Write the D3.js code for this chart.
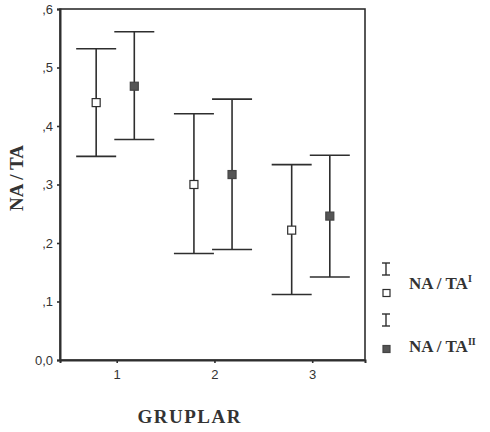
<!DOCTYPE html>
<html><head><meta charset="utf-8">
<script src="https://cdn.jsdelivr.net/npm/d3@7"></script>
<style>body{margin:0;background:#fff}</style>
</head><body>
<svg id="c" width="490" height="432"></svg>
<script>
const groups = [1, 2, 3];
const seriesNames = ["NA / TA", "NA / TA"];
const seriesSup = ["I", "II"];
const meanI = [0.440, 0.300, 0.222];
const lowI  = [0.348, 0.182, 0.112];
const highI = [0.532, 0.421, 0.334];
const meanII = [0.468, 0.317, 0.246];
const lowII  = [0.377, 0.189, 0.142];
const highII = [0.561, 0.446, 0.350];
const yTicks = [0, 0.1, 0.2, 0.3, 0.4, 0.5, 0.6];
const yTickLabels = ["0,0", ",1", ",2", ",3", ",4", ",5", ",6"];
const xTitle = "GRUPLAR", yTitle = "NA / TA";

const svg = d3.select("#c");
const col = "#2e2e2e";
const x = d3.scaleLinear().domain([0.42, 3.54]).range([60, 365]);
const y = d3.scaleLinear().domain([0, 0.6]).range([360, 9]);
const offsets = [-0.21, 0.18];
const capHalf = 20;

// frame
svg.append("rect").attr("x", 60).attr("y", 9).attr("width", 305).attr("height", 351)
  .attr("fill", "none").attr("stroke", col).attr("stroke-width", 1.6);

// axes
const ya = svg.append("g").attr("transform", "translate(60,0)")
  .call(d3.axisLeft(y).tickValues(yTicks).tickSize(3).tickFormat((d, i) => yTickLabels[i]));
const xa = svg.append("g").attr("transform", "translate(0,360)")
  .call(d3.axisBottom(x).tickValues(groups).tickSize(3).tickFormat(d3.format("d")));
[ya, xa].forEach(g => {
  g.select(".domain").attr("stroke", col).attr("stroke-width", 2);
  g.selectAll(".tick line").attr("stroke", col).attr("stroke-width", 1.6);
  g.selectAll("text").attr("font-family", "Arial, 'Liberation Sans', sans-serif")
    .attr("font-size", 13).attr("fill", "#333");
});
ya.selectAll("text").attr("dx", "-1");
xa.selectAll("text").attr("dy", "1em");

const series = [
  {mean: meanI, low: lowI, high: highI, filled: false},
  {mean: meanII, low: lowII, high: highII, filled: true}
];
series.forEach((s, si) => {
  const g = svg.append("g");
  groups.forEach((gv, i) => {
    const cx = x(gv + offsets[si]);
    g.append("line").attr("x1", cx).attr("x2", cx).attr("y1", y(s.high[i])).attr("y2", y(s.low[i]))
      .attr("stroke", col).attr("stroke-width", 1.6);
    [s.high[i], s.low[i]].forEach(v => {
      g.append("line").attr("x1", cx - capHalf).attr("x2", cx + capHalf)
        .attr("y1", y(v)).attr("y2", y(v)).attr("stroke", col).attr("stroke-width", 1.6);
    });
    g.append("rect").attr("x", cx - 4).attr("y", y(s.mean[i]) - 4).attr("width", 8).attr("height", 8)
      .attr("fill", s.filled ? "#555" : "#fff").attr("stroke", s.filled ? "#444" : col).attr("stroke-width", 1.2);
  });
});

// titles
svg.append("text").attr("x", 189).attr("y", 423).attr("text-anchor", "middle")
  .attr("font-family", "'Liberation Serif', 'Times New Roman', serif").attr("font-weight", "bold")
  .attr("font-size", 19).attr("fill", "#333").attr("textLength", 103).text(xTitle);
svg.append("text").attr("transform", "translate(23,178) rotate(-90)").attr("text-anchor", "middle")
  .attr("font-family", "'Liberation Serif', 'Times New Roman', serif").attr("font-weight", "bold")
  .attr("font-size", 19).attr("fill", "#333").text(yTitle);

// legend
const legY = [[269, 293, 289], [320, 349, 352]];
series.forEach((s, si) => {
  const [iy, sy, ty] = legY[si];
  const lg = svg.append("g");
  lg.append("line").attr("x1", 386).attr("x2", 386).attr("y1", iy - 6).attr("y2", iy + 6).attr("stroke", col).attr("stroke-width", 1.4);
  [iy - 6, iy + 6].forEach(v => lg.append("line").attr("x1", 382).attr("x2", 390).attr("y1", v).attr("y2", v).attr("stroke", col).attr("stroke-width", 1.4));
  lg.append("rect").attr("x", 383).attr("y", sy - 3.5).attr("width", 7).attr("height", 7)
    .attr("fill", s.filled ? "#555" : "#fff").attr("stroke", s.filled ? "#444" : col).attr("stroke-width", 1.2);
  const t = lg.append("text").attr("x", 409).attr("y", ty)
    .attr("font-family", "'Liberation Serif', 'Times New Roman', serif").attr("font-weight", "bold")
    .attr("font-size", 17).attr("fill", "#333");
  t.append("tspan").text(seriesNames[si]);
  t.append("tspan").attr("font-size", 10).attr("dy", "-7").text(seriesSup[si]);
});
</script>
</body></html>
